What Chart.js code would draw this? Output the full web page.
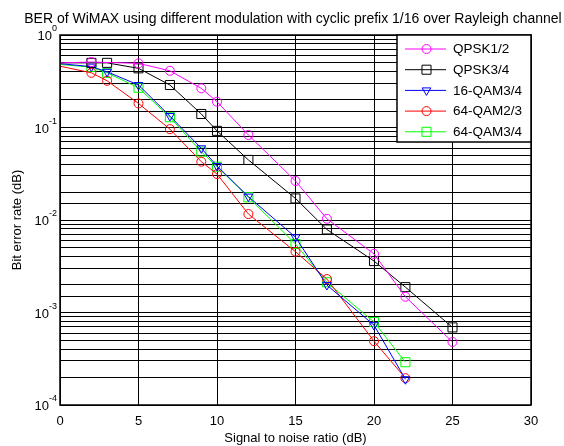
<!DOCTYPE html>
<html>
<head>
<meta charset="utf-8">
<script src="https://cdn.jsdelivr.net/npm/chart.js@4.4.1/dist/chart.umd.min.js"></script>
<style>
  html, body { margin: 0; padding: 0; background: #fff; }
  #wrap { width: 564px; height: 446px; }
</style>
</head>
<body>
<div id="wrap"><canvas id="myChart" width="564" height="446"></canvas></div>
<script>
// data
var snrQpsk12 = [0, 2, 5, 7, 9, 10, 12, 15, 17, 20, 22, 25]
var berQpsk12 = [0.5, 0.51, 0.494, 0.41, 0.265, 0.19, 0.083, 0.0264, 0.0103, 0.0043, 0.00148, 0.00048]

var snrQpsk34 = [0, 2, 3, 5, 7, 9, 10, 12, 15, 17, 20, 22, 25]
var berQpsk34 = [0.5, 0.5, 0.5, 0.436, 0.288, 0.14, 0.092, 0.0446, 0.0171, 0.0079, 0.0036, 0.00188, 0.00069]

var snrQam16 = [0, 2, 3, 5, 7, 9, 10, 12, 15, 17, 20, 22]
var berQam16 = [0.49, 0.455, 0.4, 0.288, 0.133, 0.0596, 0.0384, 0.0179, 0.0065, 0.00198, 0.00073, 0.00019]

var snrQam64a = [0, 2, 3, 5, 7, 9, 10, 12, 15, 17, 20, 22]
var berQam64a = [0.46, 0.39, 0.32, 0.182, 0.096, 0.0427, 0.0314, 0.0116, 0.00454, 0.0023, 0.00049, 0.000195]

var snrQam64b = [0, 2, 3, 5, 7, 9, 10, 12, 15, 17, 20, 22]
var berQam64b = [0.48, 0.45, 0.39, 0.269, 0.129, 0.0548, 0.0377, 0.0176, 0.0055, 0.00212, 0.00079, 0.00029]

var names = ["QPSK1/2", "QPSK3/4", "16-QAM3/4", "64-QAM2/3", "64-QAM3/4"]
var colors = ["#ff00ff", "#000000", "#0000ff", "#ff0000", "#00ff00"]
var markers = ["circle", "rect", "triangle", "circle", "rect"]
var yTicks = [1, 0.1, 0.01, 0.001, 0.0001]
var yExp = ["0", "-1", "-2", "-3", "-4"]

var chartTitle = "BER of WiMAX using different modulation with cyclic prefix 1/16 over Rayleigh channel"

function pts(xs, ys) {
  var out = []
  for (var i = 0; i < xs.length; i++) out.push({x: xs[i], y: ys[i]})
  return out
}

function radii(xs, r) {
  // first point (snr 0) sits on the axis and shows no marker
  return xs.map(function (x, i) { return i == 0 ? 0 : r })
}

var xsAll = [snrQpsk12, snrQpsk34, snrQam16, snrQam64a, snrQam64b]
var ysAll = [berQpsk12, berQpsk34, berQam16, berQam64a, berQam64b]
var sizes = [4.5, 6.4, 5, 4.5, 6.4]

var datasets = []
for (var k = 0; k < 5; k++) {
  datasets.push({
    label: names[k],
    data: pts(xsAll[k], ysAll[k]),
    borderColor: colors[k],
    borderWidth: 1,
    pointStyle: markers[k],
    pointRotation: markers[k] == "triangle" ? 180 : 0,
    pointRadius: radii(xsAll[k], sizes[k]),
    pointBorderColor: colors[k],
    pointBorderWidth: 1,
    pointBackgroundColor: "rgba(0,0,0,0)",
    tension: 0,
    fill: false
  })
}

var FONT = "Arial, 'Liberation Sans', sans-serif"

var extras = {
  id: "extras",
  afterDraw: function (chart) {
    var ctx = chart.ctx
    var a = chart.chartArea
    var ys = chart.scales.y

    ctx.save()
    // frame
    ctx.strokeStyle = "#000"
    ctx.lineWidth = 1.5
    ctx.strokeRect(a.left, a.top, a.right - a.left, a.bottom - a.top)

    // title, centred over the plot area
    ctx.fillStyle = "#000"
    ctx.font = "14px " + FONT
    ctx.textAlign = "center"
    ctx.textBaseline = "middle"
    ctx.fillText(chartTitle, 293, 19)

    // y tick labels 10^n
    for (var i = 0; i < yTicks.length; i++) {
      var py = ys.getPixelForValue(yTicks[i])
      ctx.font = "9px " + FONT
      ctx.textAlign = "left"
      ctx.textBaseline = "alphabetic"
      var ew = ctx.measureText(yExp[i]).width
      var ex = a.left - 3 - ew
      ctx.fillText(yExp[i], ex, py - 4)
      ctx.font = "13px " + FONT
      ctx.textAlign = "right"
      ctx.fillText("10", ex, py + 5)
    }

    // y axis title
    ctx.save()
    ctx.translate(17, (a.top + a.bottom) / 2)
    ctx.rotate(-Math.PI / 2)
    ctx.font = "13px " + FONT
    ctx.textAlign = "center"
    ctx.textBaseline = "middle"
    ctx.fillText("Bit error rate (dB)", 0, 0)
    ctx.restore()

    // legend box
    var lx = 397, ly = a.top, lw = a.right - 397, lh = 107
    ctx.fillStyle = "#fff"
    ctx.fillRect(lx, ly, lw, lh)
    ctx.strokeStyle = "#000"
    ctx.lineWidth = 1.5
    ctx.strokeRect(lx, ly, lw, lh)
    for (var j = 0; j < names.length; j++) {
      var ry = ly + 14 + j * 20.7
      ctx.strokeStyle = colors[j]
      ctx.lineWidth = 1
      ctx.beginPath()
      ctx.moveTo(405, ry)
      ctx.lineTo(446, ry)
      ctx.stroke()
      ctx.fillStyle = "rgba(0,0,0,0)"
      Chart.helpers.drawPoint(ctx, {
        pointStyle: markers[j],
        rotation: markers[j] == "triangle" ? 180 : 0,
        radius: sizes[j],
        borderWidth: 1
      }, 426.5, ry)
      ctx.fillStyle = "#000"
      ctx.font = "13.5px " + FONT
      ctx.textAlign = "left"
      ctx.textBaseline = "middle"
      ctx.fillText(names[j], 453, ry + 0.5)
    }
    ctx.restore()
  }
}

var myChart = new Chart("myChart", {
  type: "line",
  data: { datasets: datasets },
  options: {
    responsive: false,
    animation: false,
    layout: { padding: { left: 0, right: 33, top: 35, bottom: 0 } },
    plugins: {
      legend: { display: false },
      title: { display: false },
      tooltip: { enabled: false }
    },
    scales: {
      x: {
        type: "linear",
        min: 0,
        max: 30,
        ticks: {
          stepSize: 5,
          color: "#000",
          font: { family: FONT, size: 13 },
          padding: 9,
          maxRotation: 0
        },
        grid: { color: "#000", lineWidth: 1, drawTicks: false },
        border: { display: false },
        title: {
          display: true,
          text: "Signal to noise ratio (dB)",
          color: "#000",
          font: { family: FONT, size: 13 },
          padding: { top: 2, bottom: 0 }
        },
        afterFit: function (s) { s.height = 41 }
      },
      y: {
        type: "logarithmic",
        min: 0.0001,
        max: 1,
        ticks: { display: false },
        grid: { color: "#000", lineWidth: 1, drawTicks: false },
        border: { display: false },
        afterFit: function (s) { s.width = 60 }
      }
    }
  },
  plugins: [extras]
})
</script>
</body>
</html>
